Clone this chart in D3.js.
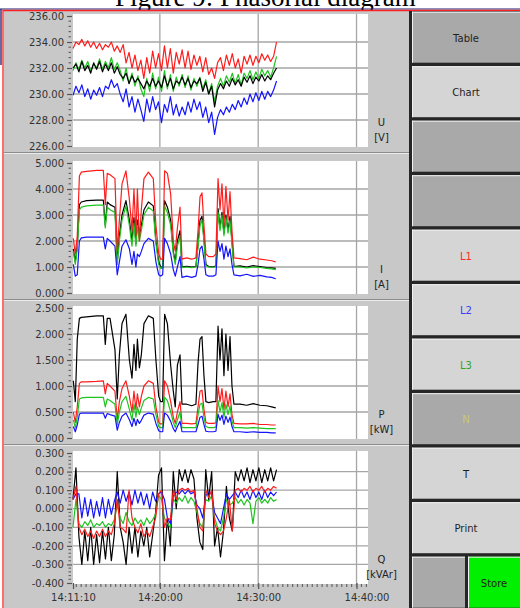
<!DOCTYPE html>
<html>
<head>
<meta charset="utf-8">
<script src="https://cdn.jsdelivr.net/npm/d3@7"></script>
<style>
body { margin:0; background:#fff; }
svg { display:block; }
</style>
</head>
<body>
<div id="my_chart"></div>
<script>
// times are seconds after 14:11:10
var sampleSec = [0,18,36,54,72,90,108,126,144,162,180,198,216,234,252,270,288,306,324,342,
  360,378,396,414,432,450,468,486,504,522,540,558,576,594,612,630,648,666,684,702,
  720,738,756,774,792,810,828,846,864,882,900,918,936,954,972,990,1008,1026,1044,1062,
  1080,1098,1116,1134,1152,1170,1188,1206,1224,1242];
var loadSec = [2,14,26,39,51,83,144,185,197,209,226,256,270,283,299,323,344,360,372,384,
  393,405,417,433,460,490,506,523,535,547,559,576,596,612,624,637,653,665,694,724,
  750,763,775,787,799,811,828,856,872,885,897,909,921,933,946,958,970,982,1019,1060,
  1100,1141,1182,1212,1237];

var timeTickLabels = ["14:11:10","14:20:00","14:30:00","14:40:00"];
var uTicks = [226,228,230,232,234,236];
var iTicks = [0,1,2,3,4,5];
var pTicks = [0,0.5,1,1.5,2,2.5];
var qTicks = [-0.4,-0.3,-0.2,-0.1,0,0.1,0.2,0.3];

// U [V]
var uRed = [233.5,234.0,233.8,234.2,233.7,234.1,233.6,234.0,233.5,233.9,233.4,233.8,233.6,234.0,233.3,233.7,233.2,
  233.8,232.4,233.2,232.0,233.0,231.8,232.6,231.2,232.8,231.6,233.3,232.0,233.1,231.8,233.7,
  232.0,233.5,231.6,233.2,232.3,233.4,232.0,233.3,231.9,233.0,232.2,232.9,231.7,232.8,
  231.5,232.0,231.2,232.4,232.8,231.8,233.0,232.2,233.1,232.0,232.7,231.6,232.9,
  232.3,233.0,232.2,232.9,232.4,233.1,232.6,233.0,232.5,232.9,234.0];
var uGreen = [231.8,232.4,231.9,232.6,232.0,232.5,231.8,232.3,232.0,232.7,231.9,232.5,232.0,232.8,231.9,232.4,231.8,
  231.0,232.0,230.8,231.6,230.6,231.4,230.4,229.8,231.2,230.2,231.6,230.4,231.3,230.2,231.8,
  230.4,231.5,230.2,231.3,230.6,231.5,230.5,231.4,230.3,231.2,230.6,231.3,230.4,231.1,
  230.0,230.8,229.4,230.6,231.2,230.6,231.4,230.9,231.6,230.8,231.5,230.7,231.6,
  231.2,231.8,231.1,231.7,231.2,231.9,231.4,231.8,231.3,232.0,232.9];
var uBlack = [232.0,232.3,231.7,232.5,231.8,232.2,231.6,232.4,231.9,232.5,231.7,232.3,231.8,232.4,231.6,232.1,231.5,
  231.2,231.6,230.8,231.4,230.9,231.2,230.8,230.4,231.0,230.6,231.2,230.6,231.0,230.5,231.4,
  230.6,231.2,230.4,231.0,230.8,231.3,230.7,231.2,230.5,231.0,230.8,231.2,230.2,230.9,
  230.0,230.6,229.0,230.3,230.8,230.4,231.0,230.6,231.2,230.7,231.1,230.6,231.3,
  230.9,231.4,230.8,231.3,231.0,231.5,231.0,231.4,231.1,231.6,232.0];
var uBlue = [229.9,230.6,230.1,230.7,229.8,230.4,229.6,230.3,229.9,230.5,229.8,230.6,230.4,231.1,230.5,230.8,230.0,
  229.4,230.4,229.0,229.8,228.6,229.6,228.8,227.9,229.6,228.6,229.8,228.8,229.4,227.8,229.2,
  228.6,229.8,228.4,229.2,228.3,229.0,228.4,229.4,228.6,229.6,228.8,229.4,228.2,229.0,
  227.8,228.6,226.9,228.2,228.8,228.4,229.0,228.6,229.2,228.8,229.5,229.0,229.7,
  229.2,230.0,229.4,230.1,229.5,230.2,229.6,230.2,229.8,230.3,231.0];

// I [A]
var iRed = [2.1,1.5,2.2,4.5,4.65,4.68,4.72,4.72,3.4,4.6,
  4.55,4.4,1.6,2.8,4.2,4.7,3.6,2.4,4.0,2.2,
  4.0,2.0,3.2,4.4,4.65,4.4,2.6,1.5,1.3,1.3,
  4.7,4.6,3.8,2.0,1.6,2.5,3.3,1.3,1.35,1.3,
  1.35,2.4,3.7,3.85,2.6,1.5,1.4,1.4,1.5,4.4,
  3.2,4.2,2.6,4.1,2.8,3.9,2.4,1.35,1.32,1.28,
  1.38,1.3,1.27,1.24,1.2];
var iBlack = [1.7,1.2,1.8,3.4,3.5,3.55,3.57,3.57,2.6,3.5,
  3.4,3.3,1.2,2.2,3.0,3.55,2.8,2.0,2.9,1.9,
  2.8,2.2,2.6,3.2,3.5,3.35,2.0,1.2,1.0,1.0,
  3.55,3.3,2.8,1.6,1.2,2.0,2.4,1.0,1.03,1.0,
  1.02,1.9,2.8,2.95,2.1,1.1,1.02,1.0,1.05,3.25,
  2.5,3.1,2.3,3.0,2.4,2.95,2.0,1.02,1.04,1.0,
  1.05,1.02,0.98,0.97,0.95];
var iGreen = [1.6,1.1,1.7,3.2,3.3,3.35,3.38,3.38,2.5,3.3,
  3.2,3.1,1.1,2.0,2.8,3.35,2.6,1.8,2.7,1.8,
  2.6,2.0,2.4,3.0,3.3,3.15,1.9,1.1,0.95,0.95,
  3.35,3.1,2.6,1.5,1.1,1.8,2.2,0.97,1.0,0.97,
  1.0,1.8,2.6,2.8,2.0,1.05,1.0,0.98,1.02,3.1,
  2.4,3.0,2.2,2.9,2.3,2.8,1.9,1.0,1.0,0.97,
  1.0,0.98,0.95,0.93,0.9];
var iBlue = [1.1,0.65,0.7,2.0,2.12,2.15,2.15,2.15,1.7,2.1,
  2.0,1.8,0.7,1.2,1.8,2.05,1.7,1.1,1.6,1.0,
  1.5,1.4,1.6,1.9,2.1,2.0,1.2,0.7,0.65,0.7,
  2.1,1.9,1.5,0.9,0.65,1.0,1.4,0.6,0.65,0.6,
  0.65,1.1,1.7,1.8,1.3,0.7,0.65,0.65,0.7,2.0,
  1.6,1.9,1.3,1.8,1.4,1.7,1.1,0.7,0.66,0.72,
  0.64,0.68,0.62,0.6,0.55];

// P [kW]
var pBlack = [1.1,0.7,1.9,2.3,2.32,2.33,2.35,2.35,1.8,2.3,
  2.3,1.7,0.75,1.6,2.2,2.38,1.5,1.15,1.8,1.3,
  1.9,1.35,1.6,2.2,2.35,2.3,1.5,0.8,0.7,0.7,
  2.38,2.2,1.4,0.9,0.6,1.4,1.6,0.65,0.65,0.62,
  0.65,1.45,1.9,1.95,1.2,0.7,0.68,0.7,0.7,2.15,
  1.5,2.1,1.2,2.0,1.3,1.95,1.0,0.65,0.65,0.63,
  0.66,0.63,0.62,0.6,0.58];
var pRed = [0.5,0.3,0.6,1.05,1.08,1.08,1.09,1.1,0.85,1.05,
  1.0,0.9,0.35,0.7,0.95,1.1,0.8,0.5,0.9,0.55,
  0.85,0.6,0.8,1.0,1.1,1.05,0.6,0.3,0.27,0.27,
  1.1,1.0,0.7,0.4,0.28,0.5,0.7,0.28,0.28,0.27,
  0.28,0.6,0.9,0.92,0.55,0.3,0.28,0.28,0.29,1.0,
  0.7,0.95,0.55,0.9,0.6,0.85,0.45,0.28,0.27,0.27,
  0.28,0.26,0.26,0.25,0.25];
var pGreen = [0.35,0.2,0.4,0.75,0.77,0.78,0.78,0.78,0.6,0.75,
  0.72,0.65,0.25,0.5,0.7,0.8,0.55,0.35,0.65,0.4,
  0.6,0.45,0.58,0.72,0.78,0.75,0.45,0.22,0.2,0.2,
  0.78,0.72,0.5,0.3,0.2,0.35,0.5,0.2,0.2,0.2,
  0.2,0.45,0.65,0.67,0.4,0.22,0.2,0.2,0.21,0.72,
  0.5,0.68,0.4,0.65,0.45,0.62,0.33,0.2,0.2,0.19,
  0.2,0.19,0.18,0.18,0.18];
var pBlue = [0.22,0.12,0.25,0.46,0.48,0.48,0.48,0.48,0.38,0.47,
  0.45,0.42,0.15,0.3,0.42,0.48,0.35,0.22,0.38,0.24,
  0.36,0.28,0.34,0.44,0.48,0.46,0.28,0.14,0.12,0.12,
  0.48,0.44,0.32,0.18,0.12,0.22,0.32,0.12,0.12,0.12,
  0.12,0.26,0.4,0.42,0.26,0.13,0.12,0.12,0.13,0.46,
  0.34,0.44,0.26,0.42,0.3,0.4,0.22,0.12,0.12,0.11,
  0.12,0.11,0.11,0.1,0.1];

// Q [kVAr]
var qBlack = [0.05,0.22,-0.15,-0.30,-0.12,-0.28,-0.10,-0.30,-0.14,-0.29,
  -0.12,-0.27,-0.10,-0.28,-0.14,0.20,-0.10,-0.18,-0.30,-0.10,
  -0.24,-0.10,-0.26,-0.12,-0.20,-0.10,-0.26,-0.14,-0.02,0.18,
  0.22,-0.28,-0.05,-0.20,0.20,0.00,0.21,0.15,0.21,0.14,
  0.21,0.16,-0.05,-0.18,-0.22,0.21,0.05,0.20,-0.20,-0.10,
  -0.26,-0.12,0.12,-0.05,-0.12,0.20,0.15,0.21,0.15,0.22,
  0.14,0.21,0.15,0.22,0.14,0.21,0.15,0.22,0.15,0.21];
var qRed = [0.05,0.12,-0.10,-0.14,-0.11,-0.15,-0.12,-0.16,-0.12,-0.15,
  -0.11,-0.15,-0.12,-0.14,-0.08,0.05,-0.10,-0.11,-0.13,0.10,
  -0.05,-0.10,-0.13,-0.08,-0.15,-0.12,-0.15,-0.10,-0.05,0.08,
  0.10,-0.10,-0.05,-0.06,0.10,0.05,0.10,0.11,0.10,0.11,
  0.09,0.10,0.00,-0.10,-0.12,0.10,0.06,0.10,-0.08,-0.12,
  -0.14,-0.12,-0.05,0.05,-0.12,0.10,0.11,0.09,0.11,0.10,
  0.12,0.09,0.11,0.10,0.12,0.09,0.11,0.10,0.12,0.11];
var qBlue = [0.05,0.08,0.08,-0.05,0.06,-0.04,0.05,-0.05,0.04,-0.04,
  0.06,-0.05,0.05,-0.03,0.04,0.09,0.03,0.10,0.04,0.09,
  0.02,0.10,0.03,0.09,0.02,0.08,0.00,0.09,0.04,0.08,
  0.09,0.05,-0.05,-0.08,0.07,0.09,0.08,0.10,0.08,0.10,
  0.08,0.09,0.02,0.00,-0.05,0.07,0.09,0.08,-0.02,-0.05,
  -0.08,0.00,0.08,0.05,0.07,0.09,0.06,0.10,0.06,0.09,
  0.05,0.10,0.06,0.09,0.05,0.10,0.06,0.09,0.07,0.09];
var qGreen = [-0.10,0.05,-0.08,-0.10,-0.07,-0.09,-0.06,-0.10,-0.08,-0.09,
  -0.07,-0.10,-0.08,-0.09,-0.06,0.02,-0.05,-0.08,-0.02,-0.07,
  -0.09,-0.05,-0.08,-0.06,-0.09,-0.05,-0.08,-0.06,-0.03,0.07,
  0.05,-0.05,-0.08,-0.10,0.05,0.03,0.06,0.04,0.07,0.03,
  0.06,0.04,-0.02,-0.08,-0.10,0.05,0.04,0.07,-0.05,-0.10,
  -0.12,-0.05,0.05,0.02,0.03,0.06,0.03,0.05,0.02,0.05,
  0.03,-0.08,0.04,0.06,0.03,0.05,0.03,0.06,0.04,0.05];

var buttonLabels = ["Table","Chart","","","L1","L2","L3","N","T","Print"];
var bottomLabels = ["","Store"];

var RED = "#ff1c1c", GREEN = "#1ec41e", BLUE = "#1414ff", BLACK = "#000";

var width = 520, height = 608;
var left = 73, right = 368, plotH = 130;

var svg = d3.select("#my_chart")
    .append("svg")
    .attr("width", width)
    .attr("height", height);

// caption, cut at the top of the page like in the scan
svg.append("text")
    .attr("x", 115)
    .attr("y", 6)
    .style("font-family", "'Liberation Serif', 'Times New Roman', serif")
    .style("font-size", "27px")
    .text("Figure 9: Phasorial diagram");

// window
svg.append("rect").attr("x", 4).attr("y", 11).attr("width", 406).attr("height", 597).attr("fill", "#c8c8c8");
svg.append("line").attr("x1", 0).attr("x2", width).attr("y1", 9).attr("y2", 9).attr("stroke", "#1a1a6e").attr("stroke-width", 1);
svg.append("line").attr("x1", 3).attr("x2", width).attr("y1", 10.5).attr("y2", 10.5).attr("stroke", "#ff2020").attr("stroke-width", 1.3);
svg.append("line").attr("x1", 3).attr("x2", 3).attr("y1", 10).attr("y2", height).attr("stroke", "#ff2020").attr("stroke-width", 1.3);
svg.append("line").attr("x1", 1).attr("x2", 1).attr("y1", 9).attr("y2", 65).attr("stroke", "#1a1a6e").attr("stroke-width", 1.3);

var parseTime = d3.timeParse("%H:%M:%S");
var t0 = parseTime(timeTickLabels[0]);
var t1 = d3.timeMinute.offset(t0, 30);
var x = d3.scaleTime().domain([t0, t1]).range([left, right]);
function at(sec) { return d3.timeSecond.offset(t0, sec); }
var timeTicks = timeTickLabels.map(parseTime);

var panels = [
    {ticks: uTicks, digits: 2, unit: ["U", "[V]"], top: 16, times: sampleSec,
     series: [[uGreen, GREEN], [uBlack, BLACK], [uBlue, BLUE], [uRed, RED]]},
    {ticks: iTicks, digits: 3, unit: ["I", "[A]"], top: 163, times: loadSec,
     series: [[iBlack, BLACK], [iGreen, GREEN], [iBlue, BLUE], [iRed, RED]]},
    {ticks: pTicks, digits: 3, unit: ["P", "[kW]"], top: 308, times: loadSec,
     series: [[pBlack, BLACK], [pRed, RED], [pGreen, GREEN], [pBlue, BLUE]]},
    {ticks: qTicks, digits: 3, unit: ["Q", "[kVAr]"], top: 453, times: sampleSec,
     series: [[qBlack, BLACK], [qGreen, GREEN], [qBlue, BLUE], [qRed, RED]]}
];

panels.forEach(function(p, k) {
    var lo = p.ticks[0], hi = p.ticks[p.ticks.length - 1];
    var y = d3.scaleLinear().domain([lo, hi]).range([p.top + plotH, p.top]);
    var g = svg.append("g");

    // separator under the panel
    if (k < panels.length - 1) {
        var sy = p.top + plotH + 6.5;
        g.append("line").attr("x1", 4).attr("x2", 409).attr("y1", sy).attr("y2", sy).attr("stroke", "#8c8c8c");
        g.append("line").attr("x1", 4).attr("x2", 409).attr("y1", sy + 1).attr("y2", sy + 1).attr("stroke", "#ececec");
    }

    g.append("rect")
        .attr("x", left).attr("y", p.top - 2)
        .attr("width", right - left).attr("height", plotH + 3)
        .attr("fill", "#fff");

    // grid
    g.selectAll(".hgrid").data(p.ticks.slice(1, -1)).enter()
        .append("line")
        .attr("x1", left).attr("x2", right)
        .attr("y1", function(d) { return y(d); }).attr("y2", function(d) { return y(d); })
        .attr("stroke", "#a6a6a6").attr("stroke-width", 1.3);
    g.selectAll(".vgrid").data(timeTicks.slice(1)).enter()
        .append("line")
        .attr("x1", function(d) { return x(d); }).attr("x2", function(d) { return x(d); })
        .attr("y1", p.top - 2).attr("y2", p.top + plotH + 1)
        .attr("stroke", "#a6a6a6").attr("stroke-width", 1.3);

    // y axis
    var yAxis = g.append("g")
        .attr("transform", "translate(72,0)")
        .call(d3.axisLeft(y).tickValues(p.ticks).tickSize(5).tickPadding(3)
            .tickFormat(function(d) { return d.toFixed(p.digits); }));
    yAxis.select(".domain").remove();
    yAxis.selectAll("line").attr("stroke", "#555").attr("stroke-width", 1.2);
    yAxis.selectAll("text")
        .attr("fill", "#333")
        .style("font-family", "'DejaVu Sans', sans-serif")
        .style("font-size", "10px");

    var minor = [];
    for (var i = 0; i < p.ticks.length - 1; i++) {
        for (var m = 1; m < 5; m++) minor.push(p.ticks[i] + (p.ticks[i + 1] - p.ticks[i]) * m / 5);
    }
    g.selectAll(".minor").data(minor).enter()
        .append("line")
        .attr("x1", 68.5).attr("x2", 71)
        .attr("y1", function(d) { return y(d); }).attr("y2", function(d) { return y(d); })
        .attr("stroke", "#666").attr("stroke-width", 1.2);

    // unit
    g.append("text")
        .attr("x", 381.5).attr("y", p.top + plotH - 24).attr("dy", "0.35em")
        .style("text-anchor", "middle")
        .style("font-family", "'DejaVu Sans', sans-serif").style("font-size", "10px")
        .attr("fill", "#222")
        .text(p.unit[0]);
    g.append("text")
        .attr("x", 381.5).attr("y", p.top + plotH - 9).attr("dy", "0.35em")
        .style("text-anchor", "middle")
        .style("font-family", "'DejaVu Sans', sans-serif").style("font-size", "10px")
        .attr("fill", "#222")
        .text(p.unit[1]);

    // curves
    var line = d3.line()
        .x(function(d, i) { return x(at(p.times[i])); })
        .y(function(d) { return y(d); });
    p.series.forEach(function(s) {
        g.append("path")
            .attr("fill", "none")
            .attr("stroke", s[1])
            .attr("stroke-width", 1.2)
            .attr("stroke-linejoin", "round")
            .attr("d", line(s[0]));
    });

    // time axis under the last panel
    if (k == panels.length - 1) {
        var by = p.top + plotH;
        var xAxis = g.append("g")
            .attr("transform", "translate(0," + by + ")")
            .call(d3.axisBottom(x).tickValues(timeTicks).tickSize(6).tickPadding(5)
                .tickFormat(function(d, i) { return timeTickLabels[i]; }));
        xAxis.select(".domain").remove();
        xAxis.selectAll("line").attr("stroke", "#555").attr("stroke-width", 1.2);
        xAxis.selectAll("text")
            .attr("fill", "#333")
            .style("font-family", "'DejaVu Sans', sans-serif")
            .style("font-size", "10px");
        xAxis.selectAll("text").filter(function(d, i) { return i == timeTicks.length - 1; })
            .attr("dx", 10);
        g.selectAll(".xminor").data(d3.timeSecond.every(30).range(t0, t1)).enter()
            .append("line")
            .attr("x1", function(d) { return x(d); }).attr("x2", function(d) { return x(d); })
            .attr("y1", by + 1).attr("y2", by + 4)
            .attr("stroke", "#666").attr("stroke-width", 1.2);
    }
});

// button column
svg.append("rect").attr("x", 409).attr("y", 11).attr("width", 111).attr("height", 597).attr("fill", "#262626");

var btnTop = 11.7, btnStep = 54.5, btnH = 51;
var darkBtn = {"Table": 1, "": 1, "N": 1};
var textCol = {"L1": "#ff2a2a", "L2": "#3a3aff", "L3": "#2aa62a", "N": "#c9c966"};

function button(bx, by, bw, label, fill) {
    svg.append("rect").attr("x", bx).attr("y", by).attr("width", bw).attr("height", btnH).attr("fill", fill);
    svg.append("line").attr("x1", bx).attr("x2", bx + bw).attr("y1", by + 0.5).attr("y2", by + 0.5).attr("stroke", "#f2f2f2");
    svg.append("line").attr("x1", bx + 0.5).attr("x2", bx + 0.5).attr("y1", by).attr("y2", by + btnH).attr("stroke", "#f2f2f2");
    if (label) {
        svg.append("text")
            .attr("x", bx + bw / 2).attr("y", by + btnH / 2 + 1).attr("dy", "0.35em")
            .style("text-anchor", "middle")
            .style("font-family", "'DejaVu Sans', sans-serif").style("font-size", "10px")
            .attr("fill", textCol[label] || "#1e1e1e")
            .text(label);
    }
}

buttonLabels.forEach(function(b, i) {
    button(412, btnTop + i * btnStep, 108, b, darkBtn[b] ? "#a9a9a9" : "#d5d5d5");
});
var lastTop = btnTop + buttonLabels.length * btnStep;
button(412, lastTop, 53, bottomLabels[0], "#a9a9a9");
button(468, lastTop, 52, bottomLabels[1], "#00f000");
</script>
</body>
</html>
